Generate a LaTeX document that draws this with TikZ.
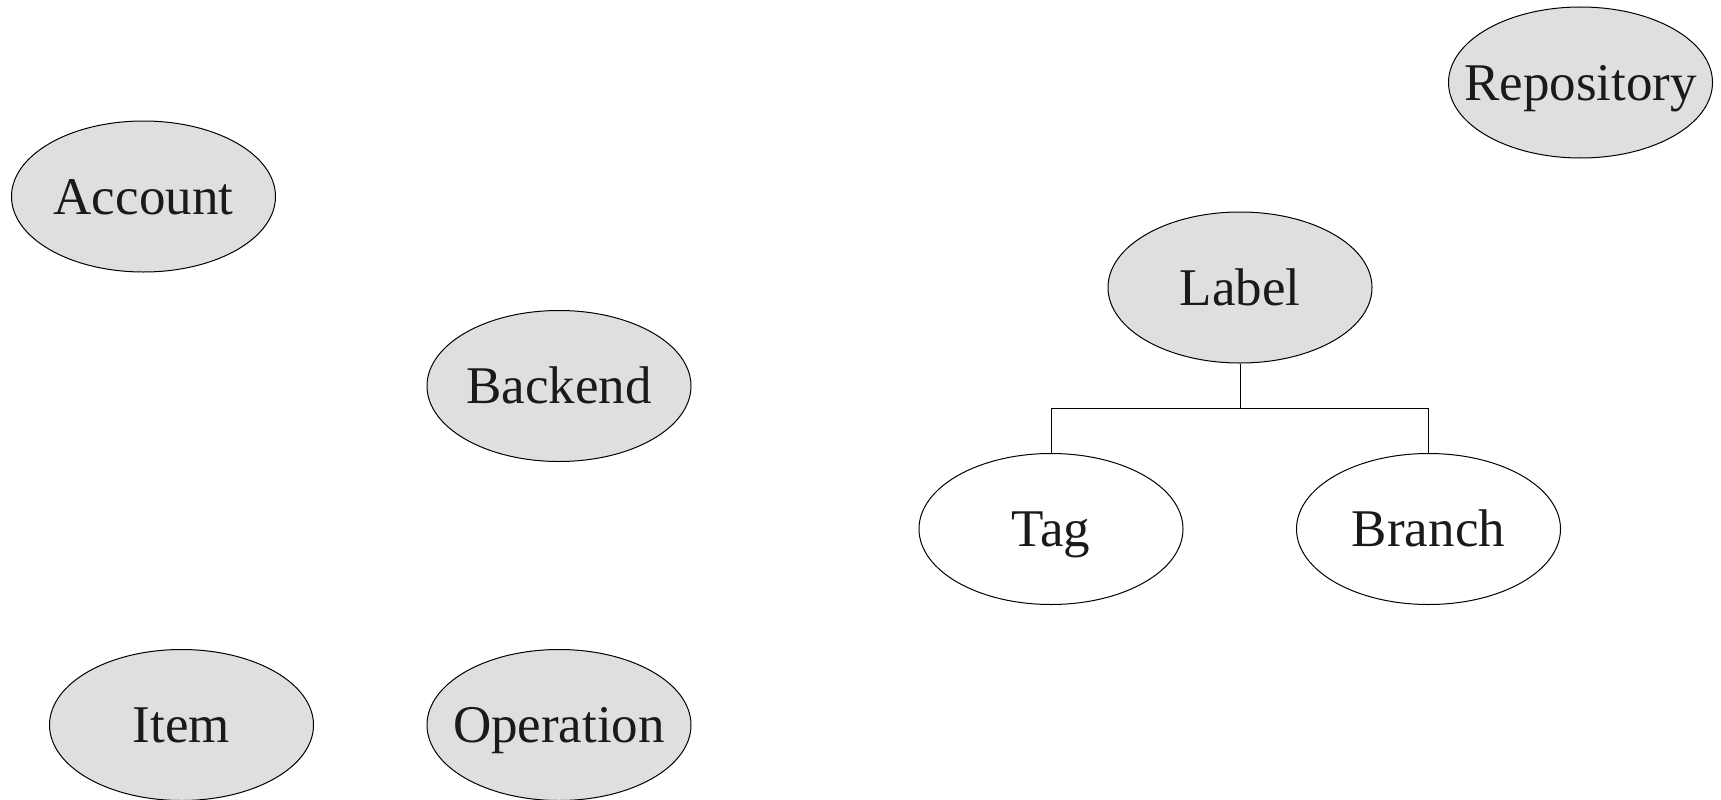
\documentclass[tikz,border=0pt]{standalone}
\usepackage{fontspec}
\setmainfont{Liberation Serif}
\usetikzlibrary{shapes.geometric}
\definecolor{efill}{HTML}{DFDFDF}
\definecolor{etext}{HTML}{1A1A1A}
\newcommand{\zw}[1]{\makebox[0pt][c]{#1}}
\begin{document}
\begin{tikzpicture}[x=1pt,y=-1pt,
  ent/.style={ellipse,draw=black,line width=1pt,minimum width=264pt,minimum height=151pt,inner sep=0pt,
    text height=35pt,text depth=0pt,text=etext,font=\fontsize{53}{60}\selectfont},
  grayent/.style={ent,fill=efill},
  whiteent/.style={ent,fill=white},
  link/.style={draw=black,line width=1pt}]
\useasboundingbox (0,0) rectangle (1721,800);
\node[grayent] (account) at (143.5,196.5) {\zw{Account}};
\node[grayent] (repository) at (1580.5,82.5) {\zw{Repository}};
\node[grayent] (label) at (1240,287.5) {\zw{Label}};
\node[grayent] (backend) at (559,386) {\zw{Backend}};
\node[whiteent] (tag) at (1051,529) {\zw{Tag}};
\node[whiteent] (branch) at (1428.5,529) {\zw{Branch}};
\node[grayent] (item) at (181.5,725) {\zw{Item}};
\node[grayent] (operation) at (559,725) {\zw{Operation}};
\coordinate (bar) at (1240,408.5);
\draw[link] (label.south) -- (bar) -| (tag.north);
\draw[link] (bar) -| (branch.north);
\end{tikzpicture}
\end{document}
